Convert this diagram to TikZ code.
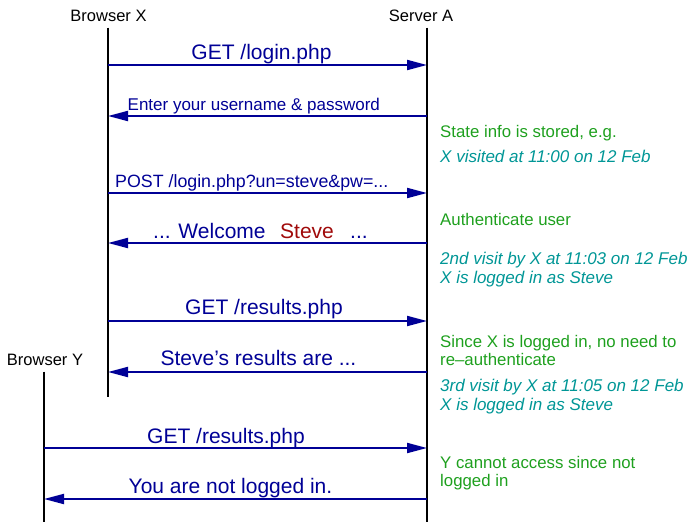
\documentclass[tikz,border=0pt]{standalone}
\usepackage{fontspec}
\setmainfont{Liberation Sans}
\usetikzlibrary{arrows.meta}
\definecolor{msgblue}{RGB}{0,0,150}
\definecolor{stevered}{RGB}{160,10,10}
\definecolor{notegreen}{RGB}{30,160,30}
\definecolor{noteteal}{RGB}{0,150,150}
\tikzset{
  life/.style={draw=black, line width=2pt},
  msg/.style={draw=msgblue, line width=2pt, -{Triangle[length=20pt,width=10pt]}},
  actor/.style={inner sep=0pt, anchor=base, font=\fontsize{16.5}{19}\selectfont},
  big/.style={inner sep=0pt, anchor=base, text=msgblue, font=\fontsize{21}{25}\selectfont},
  small/.style={inner sep=0pt, anchor=base west, text=msgblue, font=\fontsize{17.5}{21}\selectfont},
  gnote/.style={inner sep=0pt, anchor=base west, text=notegreen, font=\fontsize{16.8}{19}\selectfont},
  tnote/.style={inner sep=0pt, anchor=base west, text=noteteal, font=\fontsize{17}{19}\selectfont\itshape},
}
\begin{document}
\begin{tikzpicture}[x=1pt,y=-1pt]
\useasboundingbox (0,0) rectangle (690,522);
% actors
\node[actor] (bx) at (108.5,21.5) {Browser X};
\node[actor] (sa) at (421,21.5) {Server A};
\node[actor] (by) at (45,365) {Browser Y};
% lifeline ends
\coordinate (bxt) at (108,27.5);
\coordinate (bxb) at (108,397);
\coordinate (sat) at (427,27.5);
\coordinate (sab) at (427,522);
\coordinate (byt) at (44,371.5);
\coordinate (byb) at (44,522);
\draw[life] (bxt) -- (bxb);
\draw[life] (sat) -- (sab);
\draw[life] (byt) -- (byb);
% message endpoints
\foreach \n/\y in {1/65,2/116,3/193,4/243,5/321,6/372}{
  \coordinate (x\n) at (108,\y);
  \coordinate (a\n) at (427,\y);
}
\coordinate (y7) at (44,448);  \coordinate (a7) at (427,448);
\coordinate (y8) at (44,499);  \coordinate (a8) at (427,499);
\draw[msg] (x1) -- (a1);
\draw[msg] (a2) -- (x2);
\draw[msg] (x3) -- (a3);
\draw[msg] (a4) -- (x4);
\draw[msg] (x5) -- (a5);
\draw[msg] (a6) -- (x6);
\draw[msg] (y7) -- (a7);
\draw[msg] (a8) -- (y8);
% message labels
\node[big] (m1) at (261.5,59) {GET /login.php};
\node[small, font=\fontsize{17}{21}\selectfont] (m2) at (127.5,110) {Enter your username \& password};
\node[small, font=\fontsize{17.8}{21}\selectfont] (m3) at (115,187) {POST /login.php?un=steve\&pw=...};
\node[big, anchor=base west] (m4a) at (153,238) {... Welcome};
\node[big, anchor=base west, text=stevered] (m4b) at (280,238) {Steve};
\node[big, anchor=base west] (m4c) at (350,238) {...};
\node[big] (m5) at (264,314) {GET /results.php};
\node[big] (m6) at (258.5,365) {Steve’s results are ...};
\node[big] (m7) at (226,443) {GET /results.php};
\node[big] (m8) at (230.5,493) {You are not logged in.};
% notes
\node[gnote] (n1) at (440,137) {State info is stored, e.g.};
\node[tnote] (n2) at (440,162) {X visited at 11:00 on 12 Feb};
\node[gnote] (n3) at (440,225) {Authenticate user};
\node[tnote] (n4) at (440,264) {2nd visit by X at 11:03 on 12 Feb};
\node[tnote] (n5) at (440,283) {X is logged in as Steve};
\node[gnote] (n6) at (440,347) {Since X is logged in, no need to};
\node[gnote] (n7) at (440,365) {re\textendash authenticate};
\node[tnote] (n8) at (440,391) {3rd visit by X at 11:05 on 12 Feb};
\node[tnote] (n9) at (440,410) {X is logged in as Steve};
\node[gnote] (n10) at (440,468) {Y cannot access since not};
\node[gnote] (n11) at (440,486.5) {logged in};
\end{tikzpicture}
\end{document}
